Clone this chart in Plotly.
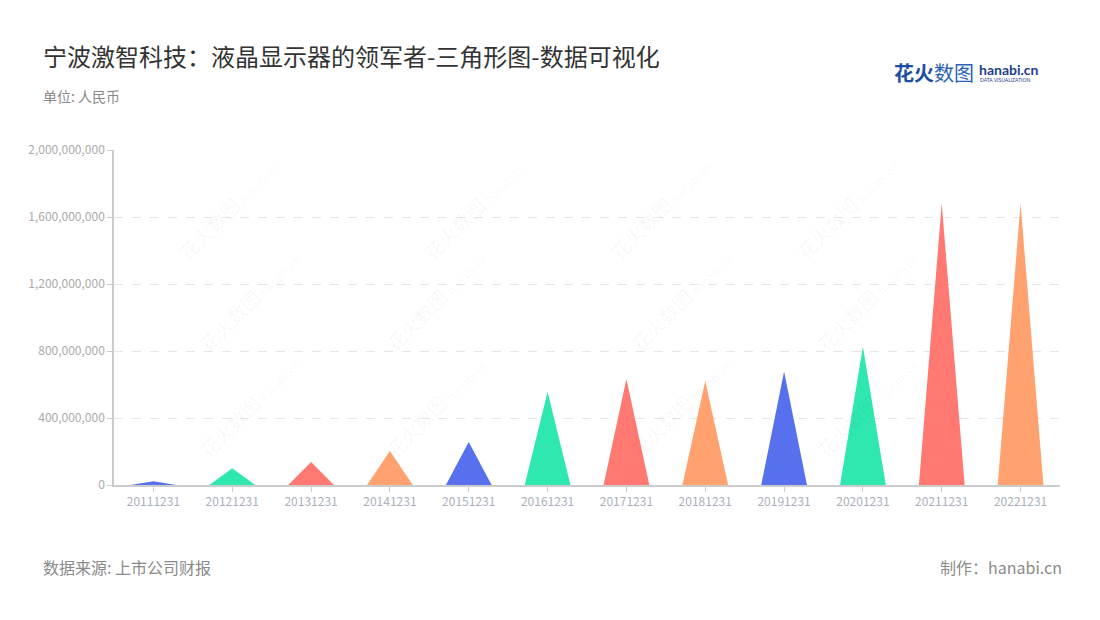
import plotly.graph_objects as go

categories = ["20111231", "20121231", "20131231", "20141231", "20151231", "20161231",
              "20171231", "20181231", "20191231", "20201231", "20211231", "20221231"]
values = [22e6, 100e6, 137e6, 203e6, 257e6, 557e6, 633e6, 621e6, 677e6, 826e6, 1680e6, 1680e6]
palette = ["#5670ee", "#2ee8b0", "#ff7872", "#ffa26f"]
y_ticks = [0, 400e6, 800e6, 1200e6, 1600e6, 2000e6]

FONT = "Noto Sans CJK SC, Noto Sans, sans-serif"
W, H = 1100, 620
L, R, T, B = 114, 40, 150, 135
half = 0.29

fig = go.Figure()
for i, (c, v) in enumerate(zip(categories, values)):
    fig.add_trace(go.Scatter(
        x=[i - half, i, i + half, i - half],
        y=[0, v, 0, 0],
        mode="lines", fill="toself",
        fillcolor=palette[i % 4], line=dict(width=0, color=palette[i % 4]),
        hoverinfo="text", text=f"{c}: {v:,.0f}", showlegend=False,
    ))

def px(x):
    return (x - L) / (W - L - R)

def py(y):
    return (H - B - y) / (H - T - B)

ann = []
# faint watermarks
wm_pos = [(170, 150), (415, 150), (660, 150), (905, 150),
          (190, 300), (435, 300), (680, 300), (925, 300),
          (190, 465), (435, 465), (680, 465), (925, 465)]
for (x, y) in wm_pos:
    ann.append(dict(x=px(x), y=py(y), xref="paper", yref="paper",
                    text="花火数图 <span style='font-size:11px'>hanabi.cn</span>",
                    showarrow=False, textangle=-45,
                    font=dict(family=FONT, size=19, color="rgba(0,0,0,0.045)")))

ann += [
    dict(x=px(41), y=py(55), xref="paper", yref="paper", xanchor="left", yanchor="middle",
         text="宁波激智科技：液晶显示器的领军者-三角形图-数据可视化", showarrow=False,
         font=dict(family=FONT, size=24, color="#333333")),
    dict(x=px(41), y=py(96), xref="paper", yref="paper", xanchor="left", yanchor="middle",
         text="单位: 人民币", showarrow=False, font=dict(family=FONT, size=14, color="#8a8a8a")),
    dict(x=px(41), y=py(567), xref="paper", yref="paper", xanchor="left", yanchor="middle",
         text="数据来源: 上市公司财报", showarrow=False, font=dict(family=FONT, size=16, color="#8a8a8a")),
    dict(x=px(1064), y=py(567), xref="paper", yref="paper", xanchor="right", yanchor="middle",
         text="制作：hanabi.cn", showarrow=False, font=dict(family=FONT, size=16, color="#8a8a8a")),
    # logo
    dict(x=px(892), y=py(72), xref="paper", yref="paper", xanchor="left", yanchor="middle",
         text="<b>花火</b>", showarrow=False, font=dict(family=FONT, size=20, color="#1e4f9e")),
    dict(x=px(932), y=py(72), xref="paper", yref="paper", xanchor="left", yanchor="middle",
         text="数图", showarrow=False, font=dict(family=FONT, size=20, color="#2a62b8")),
    dict(x=px(977), y=py(69), xref="paper", yref="paper", xanchor="left", yanchor="middle",
         text="<b>hanabi.cn</b>", showarrow=False, font=dict(family="Lato, sans-serif", size=14, color="#1e3f8a")),
    dict(x=px(978), y=py(80), xref="paper", yref="paper", xanchor="left", yanchor="middle",
         text="DATA VISUALIZATION", showarrow=False, font=dict(family="Lato, sans-serif", size=5, color="#1e3f8a")),
]

fig.update_layout(
    width=W, height=H,
    margin=dict(l=L, r=R, t=T, b=B),
    paper_bgcolor="white", plot_bgcolor="white",
    font=dict(family=FONT),
    annotations=ann,
    xaxis=dict(range=[-0.5, len(categories) - 0.5], tickvals=list(range(len(categories))),
               ticktext=categories, showgrid=False, zeroline=False,
               showline=True, linecolor="#cccccc", linewidth=1.5,
               ticks="outside", ticklen=5, tickcolor="#cccccc",
               tickfont=dict(size=12, color="#aab0bb", family=FONT), fixedrange=True),
    yaxis=dict(range=[0, 2000e6], tickvals=y_ticks, tickformat=",d",
               showgrid=True, gridcolor="#e6e6e6", griddash="dash", gridwidth=1,
               zeroline=False, showline=True, linecolor="#cccccc", linewidth=1.5,
               ticks="outside", ticklen=5, tickcolor="#cccccc",
               tickfont=dict(size=12, color="#aaaaaa", family=FONT), fixedrange=True),
)

fig.write_html("out.html", config={"displayModeBar": False})

# remove the browser's default body margin so the figure sits at (0, 0)
with open("out.html", "r", encoding="utf-8") as f:
    html = f.read()
html = html.replace("<body>", '<body style="margin:0;padding:0;">', 1)
with open("out.html", "w", encoding="utf-8") as f:
    f.write(html)
